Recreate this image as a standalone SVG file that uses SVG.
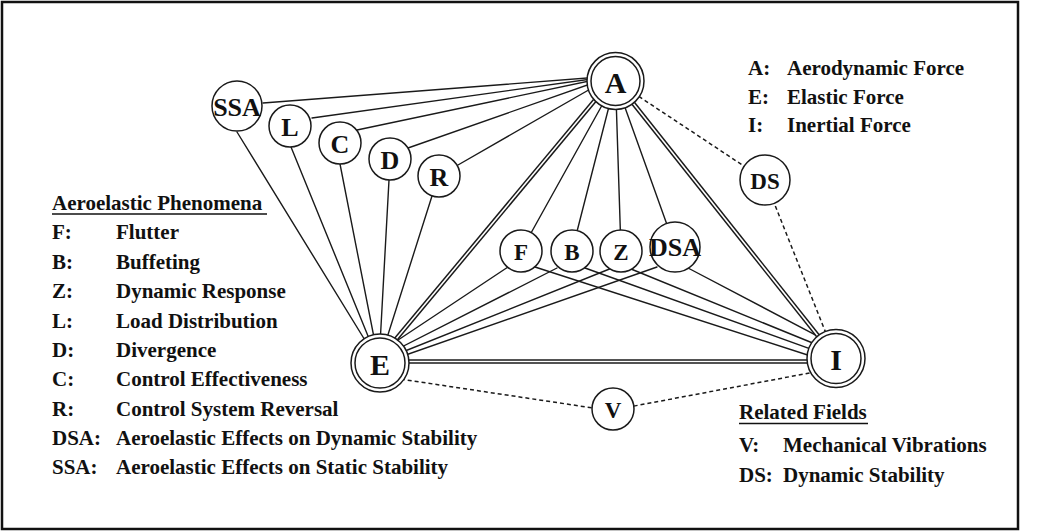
<svg xmlns="http://www.w3.org/2000/svg" width="1039" height="531" viewBox="0 0 1039 531">
<style>
  .ln { stroke:#1a1a1a; stroke-width:1.4; fill:none; stroke-linecap:round; }
  .dbl { stroke:#1a1a1a; stroke-width:4.6; fill:none; }
  .dblw { stroke:#ffffff; stroke-width:1.6; fill:none; }
  .dash { stroke:#1a1a1a; stroke-width:1.5; fill:none; stroke-dasharray:4 3; }
  .nd { fill:#ffffff; stroke:#1a1a1a; stroke-width:1.5; }
  .lbl { font-family:"Liberation Serif","Times New Roman",serif; font-weight:bold; fill:#111; text-anchor:middle; dominant-baseline:central; }
  .big { font-size:30px; }
  .mid { font-size:26px; }
  .sm { font-size:23px; }
  .leg { font-family:"Liberation Serif","Times New Roman",serif; font-weight:bold; font-size:21px; fill:#111; }
  .ul { stroke:#111; stroke-width:1.5; }
</style>
<rect x="0" y="0" width="1039" height="531" fill="#ffffff"/>
<rect x="2" y="2" width="1016" height="527" fill="none" stroke="#111" stroke-width="2.5"/>

<g id="connectors">
  <!-- left phenomena to A -->
  <line class="ln" x1="263" y1="103" x2="613" y2="76"/>
  <line class="ln" x1="312" y1="118" x2="613" y2="76"/>
  <line class="ln" x1="357" y1="130" x2="613" y2="76"/>
  <line class="ln" x1="408" y1="148" x2="613" y2="76"/>
  <line class="ln" x1="458" y1="165" x2="613" y2="76"/>
  <!-- left phenomena to E -->
  <line class="ln" x1="237" y1="132" x2="379" y2="363"/>
  <line class="ln" x1="291" y1="147" x2="379" y2="363"/>
  <line class="ln" x1="340" y1="164" x2="379" y2="363"/>
  <line class="ln" x1="389" y1="180" x2="379" y2="363"/>
  <line class="ln" x1="432" y1="196" x2="379" y2="363"/>
  <!-- A to center phenomena -->
  <line class="ln" x1="615.5" y1="81" x2="521" y2="251"/>
  <line class="ln" x1="615.5" y1="81" x2="572" y2="251"/>
  <line class="ln" x1="615.5" y1="81" x2="621" y2="251"/>
  <line class="ln" x1="615.5" y1="81" x2="675" y2="247"/>
  <!-- center phenomena to E -->
  <line class="ln" x1="508" y1="267" x2="380" y2="352"/>
  <line class="ln" x1="557" y1="268" x2="380" y2="358"/>
  <line class="ln" x1="612" y1="268" x2="380" y2="361"/>
  <line class="ln" x1="657" y1="267" x2="380" y2="364"/>
  <!-- center phenomena to I -->
  <line class="ln" x1="535" y1="267" x2="820" y2="359"/>
  <line class="ln" x1="585" y1="268" x2="820" y2="352.3"/>
  <line class="ln" x1="631" y1="269" x2="820" y2="346"/>
  <line class="ln" x1="688" y1="268" x2="820" y2="337.3"/>
  <!-- double lines between forces -->
  <line class="dbl" x1="611" y1="81" x2="376" y2="363"/>
  <line class="dblw" x1="611" y1="81" x2="376" y2="363"/>
  <line class="dbl" x1="615.5" y1="81" x2="836" y2="358.5"/>
  <line class="dblw" x1="615.5" y1="81" x2="836" y2="358.5"/>
  <line class="dbl" x1="380" y1="361.5" x2="836" y2="361.5"/>
  <line class="dblw" x1="380" y1="361.5" x2="836" y2="361.5"/>
  <!-- dashed related fields -->
  <line class="dash" x1="615.5" y1="81" x2="765" y2="180"/>
  <line class="dash" x1="765" y1="180" x2="836" y2="358.5"/>
  <line class="dash" x1="380" y1="376" x2="613" y2="411"/>
  <line class="dash" x1="613" y1="410" x2="836" y2="368"/>
</g>

<g id="node-A">
  <circle class="nd" cx="615.5" cy="81" r="28.5"/>
  <circle class="nd" cx="615.5" cy="81" r="24.5"/>
  <text class="lbl big" x="615.5" y="82">A</text>
</g>
<g id="node-E">
  <circle class="nd" cx="380" cy="363" r="29"/>
  <circle class="nd" cx="380" cy="363" r="25"/>
  <text class="lbl big" x="380" y="364">E</text>
</g>
<g id="node-I">
  <circle class="nd" cx="836" cy="358.5" r="29"/>
  <circle class="nd" cx="836" cy="358.5" r="25"/>
  <text class="lbl big" x="836" y="359.5">I</text>
</g>
<g id="node-SSA">
  <circle class="nd" cx="237" cy="106" r="25"/>
  <text class="lbl mid" x="237" y="107">SSA</text>
</g>
<g id="node-L">
  <circle class="nd" cx="290" cy="126" r="21"/>
  <text class="lbl mid" x="290" y="127">L</text>
</g>
<g id="node-C">
  <circle class="nd" cx="340" cy="143" r="21"/>
  <text class="lbl mid" x="340" y="144">C</text>
</g>
<g id="node-D">
  <circle class="nd" cx="390" cy="159" r="21"/>
  <text class="lbl mid" x="390" y="160">D</text>
</g>
<g id="node-R">
  <circle class="nd" cx="439" cy="176" r="21"/>
  <text class="lbl mid" x="439" y="177">R</text>
</g>
<g id="node-F">
  <circle class="nd" cx="521" cy="251" r="21"/>
  <text class="lbl sm" x="521" y="252">F</text>
</g>
<g id="node-B">
  <circle class="nd" cx="572" cy="251" r="21"/>
  <text class="lbl sm" x="572" y="252">B</text>
</g>
<g id="node-Z">
  <circle class="nd" cx="621" cy="251" r="21"/>
  <text class="lbl sm" x="621" y="252">Z</text>
</g>
<g id="node-DSA">
  <circle class="nd" cx="675" cy="247" r="25"/>
  <text class="lbl mid" x="675" y="247">DSA</text>
</g>
<g id="node-DS">
  <circle class="nd" cx="765" cy="180" r="25"/>
  <text class="lbl sm" x="765" y="181">DS</text>
</g>
<g id="node-V">
  <circle class="nd" cx="613" cy="409" r="21"/>
  <text class="lbl sm" x="613" y="410">V</text>
</g>

<g id="legend-forces">
  <text class="leg" x="748" y="75">A:</text><text class="leg" x="787" y="75">Aerodynamic Force</text>
  <text class="leg" x="748" y="103.5">E:</text><text class="leg" x="787" y="103.5">Elastic Force</text>
  <text class="leg" x="748" y="132">I:</text><text class="leg" x="787" y="132">Inertial Force</text>
</g>

<g id="legend-phenomena">
  <text class="leg" x="52" y="210">Aeroelastic Phenomena</text>
  <line class="ul" x1="52" y1="214" x2="267" y2="214"/>
  <text class="leg" x="52" y="239.4">F:</text><text class="leg" x="116" y="239.4">Flutter</text>
  <text class="leg" x="52" y="268.8">B:</text><text class="leg" x="116" y="268.8">Buffeting</text>
  <text class="leg" x="52" y="298.2">Z:</text><text class="leg" x="116" y="298.2">Dynamic Response</text>
  <text class="leg" x="52" y="327.6">L:</text><text class="leg" x="116" y="327.6">Load Distribution</text>
  <text class="leg" x="52" y="357">D:</text><text class="leg" x="116" y="357">Divergence</text>
  <text class="leg" x="52" y="386.4">C:</text><text class="leg" x="116" y="386.4">Control Effectiveness</text>
  <text class="leg" x="52" y="415.8">R:</text><text class="leg" x="116" y="415.8">Control System Reversal</text>
  <text class="leg" x="52" y="445">DSA:</text><text class="leg" x="116" y="445">Aeroelastic Effects on Dynamic Stability</text>
  <text class="leg" x="52" y="474">SSA:</text><text class="leg" x="116" y="474">Aeroelastic Effects on Static Stability</text>
</g>

<g id="legend-related">
  <text class="leg" x="739" y="419">Related Fields</text>
  <line class="ul" x1="739" y1="423.5" x2="868" y2="423.5"/>
  <text class="leg" x="739" y="452">V:</text><text class="leg" x="783" y="452">Mechanical Vibrations</text>
  <text class="leg" x="739" y="482">DS:</text><text class="leg" x="783" y="482">Dynamic Stability</text>
</g>
</svg>
